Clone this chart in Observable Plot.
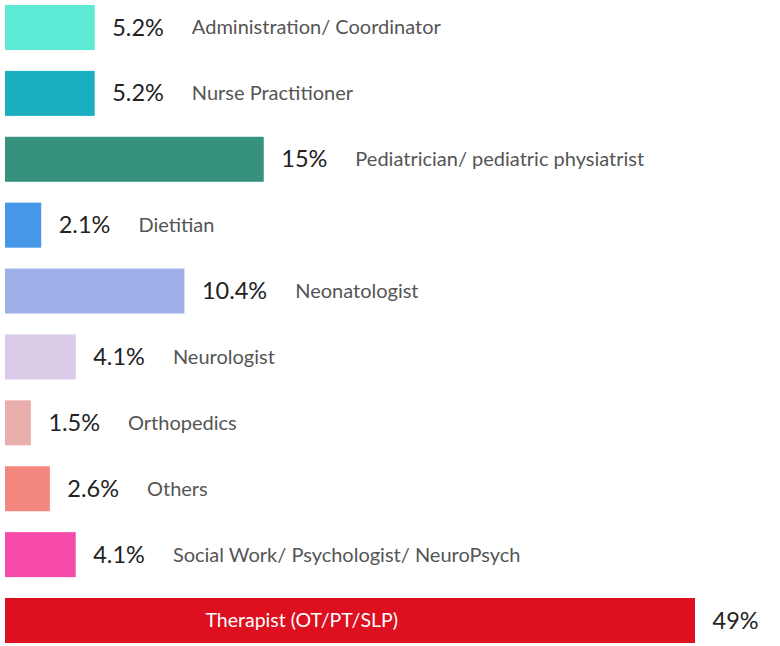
<!DOCTYPE html>
<html>
<head>
<meta charset="utf-8">
<script src="https://cdn.jsdelivr.net/npm/d3@7"></script>
<script src="https://cdn.jsdelivr.net/npm/@observablehq/plot@0.6"></script>
<style>
  html, body { margin: 0; padding: 0; background: #fff; }
  #chart svg { display: block; font-family: Lato, "Open Sans", sans-serif; }
</style>
</head>
<body>
<div id="chart"></div>
<script>
const categories = [
  "Administration/ Coordinator",
  "Nurse Practitioner",
  "Pediatrician/ pediatric physiatrist",
  "Dietitian",
  "Neonatologist",
  "Neurologist",
  "Orthopedics",
  "Others",
  "Social Work/ Psychologist/ NeuroPsych",
  "Therapist (OT/PT/SLP)"
];
const values = [5.2, 5.2, 15, 2.1, 10.4, 4.1, 1.5, 2.6, 4.1, 49];
const valueLabels = ["5.2%", "5.2%", "15%", "2.1%", "10.4%", "4.1%", "1.5%", "2.6%", "4.1%", "49%"];
const colors = ["#5eebd6", "#1aafc0", "#36917d", "#4797e8", "#9fb0e8", "#d9cbe8", "#e9afad", "#f4877d", "#f54aaa", "#de0f1f"];
const xCap = 40;

const data = categories.map((c, i) => ({category: c, value: values[i], label: valueLabels[i]}));

const chart = Plot.plot({
  width: 780,
  height: 646,
  marginTop: 5,
  marginBottom: 3,
  marginLeft: 5,
  marginRight: 0,
  x: {domain: [0, xCap], range: [5, 695], clamp: true, axis: null},
  y: {domain: categories, paddingInner: 0.317, paddingOuter: 0, round: false, axis: null},
  color: {domain: categories, range: colors},
  marks: [
    Plot.barX(data, {x: "value", y: "category", fill: "category"}),
    Plot.text(data, {x: "value", y: "category", text: "label", textAnchor: "start", dx: 17, fontSize: 23.5, fill: "#222", fontFamily: "Lato"}),
    Plot.text(data, {filter: d => d.value < xCap, x: "value", y: "category", text: "category", textAnchor: "start", dx: 17, fontSize: 20, fill: "#555", fontFamily: "Lato"}),
    Plot.text(data, {filter: d => d.value >= xCap, x: 0, y: "category", text: "category", textAnchor: "start", dx: 200, fontSize: 19.5, fill: "#fff", fontFamily: "Lato"})
  ]
});
document.getElementById("chart").appendChild(chart);

// place each category label just after its value label
const groups = chart.querySelectorAll('g[aria-label="text"]');
const valTexts = groups[0].querySelectorAll("text");
const catTexts = groups[1].querySelectorAll("text");
catTexts.forEach((t, i) => {
  const w = valTexts[i].getComputedTextLength();
  t.setAttribute("dx", w + 28);
});
</script>
</body>
</html>
